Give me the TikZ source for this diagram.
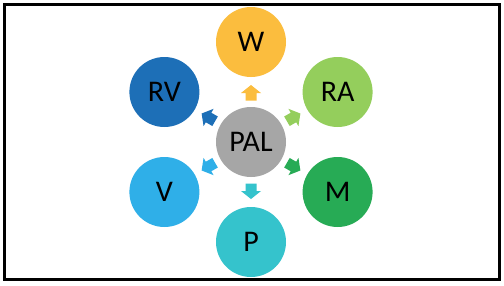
\documentclass[tikz,border=0pt]{standalone}
\usepackage{fontspec}
\setmainfont{Carlito}
\definecolor{cW}{HTML}{FBBD3E}
\definecolor{cRA}{HTML}{94CE5C}
\definecolor{cM}{HTML}{27AB55}
\definecolor{cP}{HTML}{35C3CC}
\definecolor{cV}{HTML}{2FAFE8}
\definecolor{cRV}{HTML}{1D6FB7}
\definecolor{cPAL}{HTML}{A6A6A6}
\tikzset{
  bubble/.style={circle, minimum size=70pt, inner sep=0pt, font=\fontsize{30}{32}\selectfont, text=black}
}
\newcommand{\blockarr}[2]{%
  \begin{scope}[shift={(C)}, rotate=#1, shift={(49pt,0)}]
    \fill[#2] (-7.5pt,-5.5pt) -- (0pt,-5.5pt) -- (0pt,-10pt) -- (8pt,0pt) -- (0pt,10pt) -- (0pt,5.5pt) -- (-7.5pt,5.5pt) -- cycle;
  \end{scope}}
\begin{document}
\begin{tikzpicture}[x=1pt,y=1pt]
\useasboundingbox (0,0) rectangle (504,285);
\fill[white] (0,0) rectangle (504,285);
\draw[line width=3pt] (4.5,5.5) rectangle (499,280.5);
\coordinate (C) at (251,143);
\node[bubble, fill=cPAL] (PAL) at (C) {PAL};
\node[bubble, fill=cW]  (W)  at ([shift={(90:100)}]C) {W};
\node[bubble, fill=cRA] (RA) at ([shift={(30:100)}]C) {RA};
\node[bubble, fill=cM]  (M)  at ([shift={(-30:100)}]C) {M};
\node[bubble, fill=cP]  (P)  at ([shift={(-90:100)}]C) {P};
\node[bubble, fill=cV]  (V)  at ([shift={(-150:100)}]C) {V};
\node[bubble, fill=cRV] (RV) at ([shift={(150:100)}]C) {RV};
\blockarr{90}{cW}
\blockarr{30}{cRA}
\blockarr{-30}{cM}
\blockarr{-90}{cP}
\blockarr{-150}{cV}
\blockarr{150}{cRV}
\end{tikzpicture}
\end{document}
